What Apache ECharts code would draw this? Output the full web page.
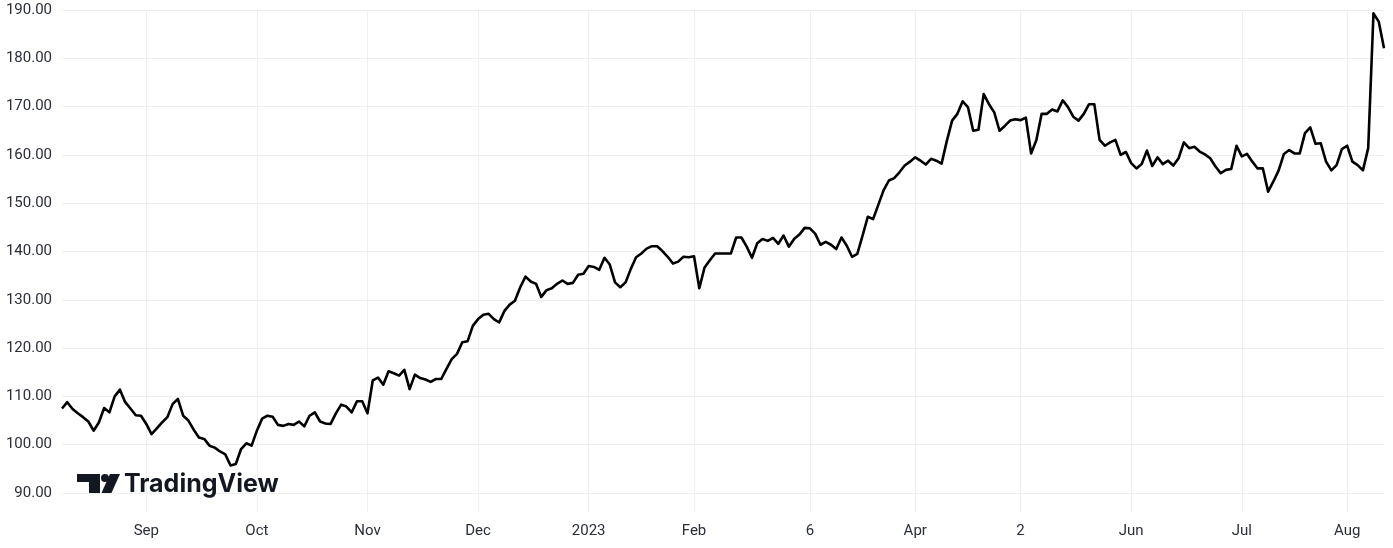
<!DOCTYPE html>
<html>
<head>
<meta charset="utf-8">
<script src="https://cdn.jsdelivr.net/npm/echarts@6/dist/echarts.min.js"></script>
<style>
html,body{margin:0;padding:0;background:#fff;}
#chart{width:1393px;height:548px;}
</style>
</head>
<body>
<div id="chart"></div>
<script>
// Daily closes, Aug 2022 – Aug 2023
const prices = [
  107.5,108.8,107.4,106.5,105.7,104.8,102.9,104.6,107.6,106.7,
  110.0,111.4,108.8,107.5,106.1,106.0,104.3,102.2,103.4,104.6,
  105.7,108.4,109.5,106.0,105.0,103.1,101.5,101.2,99.8,99.4,
  98.6,98.0,95.7,96.0,99.1,100.3,99.8,102.9,105.4,106.0,
  105.8,104.1,103.9,104.3,104.1,104.8,103.8,106.0,106.7,104.8,
  104.4,104.3,106.5,108.3,107.9,106.7,109.0,109.0,106.5,113.3,
  113.9,112.4,115.2,114.8,114.3,115.5,111.5,114.5,113.8,113.5,
  113.0,113.6,113.6,115.7,117.7,118.8,121.2,121.4,124.6,126.0,
  126.9,127.1,126.0,125.3,127.7,129.0,129.8,132.6,134.8,133.8,
  133.3,130.6,132.0,132.4,133.3,134.0,133.3,133.5,135.2,135.4,
  137.0,136.8,136.2,138.7,137.3,133.6,132.6,133.6,136.4,138.8,
  139.6,140.6,141.1,141.1,140.1,138.9,137.5,137.9,138.9,138.8,
  139.0,132.4,136.7,138.2,139.6,139.6,139.6,139.6,142.9,142.9,
  141.0,138.7,141.7,142.6,142.2,142.8,141.6,143.3,141.0,142.6,
  143.5,144.9,144.8,143.7,141.4,142.0,141.4,140.5,142.9,141.2,
  138.9,139.5,143.3,147.2,146.7,149.7,152.7,154.7,155.2,156.4,
  157.8,158.6,159.5,158.8,158.0,159.2,158.8,158.2,162.9,167.1,
  168.5,171.1,169.9,165.0,165.2,172.6,170.5,168.8,165.0,166.0,
  167.1,167.4,167.2,167.7,160.3,163.1,168.5,168.5,169.4,169.0,
  171.3,169.9,167.9,167.1,168.5,170.5,170.5,163.1,161.9,162.6,
  163.1,160.0,160.6,158.3,157.2,158.1,160.9,157.7,159.5,158.1,
  158.8,157.8,159.3,162.6,161.4,161.7,160.7,160.1,159.3,157.6,
  156.2,156.9,157.1,161.9,159.7,160.2,158.6,157.2,157.2,152.4,
  154.5,156.8,160.2,161.0,160.3,160.3,164.5,165.7,162.3,162.4,
  158.6,156.8,157.9,161.2,161.9,158.6,157.9,156.8,161.4,189.3,
  187.6,182.1
];
// bar positions (trading-day index) where the time-scale labels sit
const tickIndex  = [16, 37, 58, 79, 100, 120, 142, 162, 182, 203, 224, 244];
const tickLabels = ['Sep','Oct','Nov','Dec','2023','Feb','6','Apr','2','Jun','Jul','Aug'];
const categories = prices.map((_, i) => i);

const gridColor = '#efeff1';
const textColor = '#2a2e39';
const isTick = (idx) => tickIndex.indexOf(idx) !== -1;

const chart = echarts.init(document.getElementById('chart'), null, {renderer: 'canvas'});
chart.setOption({
  animation: false,
  backgroundColor: '#ffffff',
  grid: {left: 62, right: 9, top: 10, bottom: 55, containLabel: false},
  xAxis: {
    type: 'category',
    data: categories,
    boundaryGap: false,
    axisLine: {show: false},
    axisTick: {show: true, interval: isTick, length: 19, inside: false,
               lineStyle: {color: gridColor, width: 1}},
    splitLine: {show: true, interval: isTick, lineStyle: {color: gridColor, width: 1}},
    axisLabel: {
      interval: isTick,
      margin: 31,
      color: textColor,
      fontSize: 15,
      fontFamily: 'Roboto, "Noto Sans", sans-serif',
      formatter: (v, idx) => { const k = tickIndex.indexOf(Number(v)); return k >= 0 ? tickLabels[k] : ''; }
    }
  },
  yAxis: {
    type: 'value',
    position: 'left',
    min: 90, max: 190, interval: 10,
    axisLine: {show: false},
    axisTick: {show: false},
    splitLine: {show: true, lineStyle: {color: gridColor, width: 1}},
    axisLabel: {
      margin: 10,
      color: textColor,
      fontSize: 15,
      fontFamily: 'Roboto, "Noto Sans", sans-serif',
      formatter: (v) => v.toFixed(2)
    }
  },
  series: [{
    type: 'line',
    data: prices,
    showSymbol: false,
    smooth: false,
    lineStyle: {color: '#000000', width: 2.6, join: 'round'},
    z: 3
  }],
  graphic: [
    {type: 'group', left: 77, top: 474, z: 10, children: [
      {type: 'rect', shape: {x: 0, y: 0, width: 23, height: 8}, style: {fill: '#131722'}},
      {type: 'rect', shape: {x: 12, y: 0, width: 11, height: 20}, style: {fill: '#131722'}},
      {type: 'circle', shape: {cx: 28, cy: 4, r: 4}, style: {fill: '#131722'}},
      {type: 'polygon', shape: {points: [[33, 0], [43, 0], [34, 20], [24, 20]]}, style: {fill: '#131722'}}
    ]},
    {type: 'text', left: 124, top: 472, z: 10,
     style: {text: 'TradingView', fill: '#131722', font: '700 25px Inter, "Noto Sans", sans-serif'}}
  ]
});
</script>
</body>
</html>
